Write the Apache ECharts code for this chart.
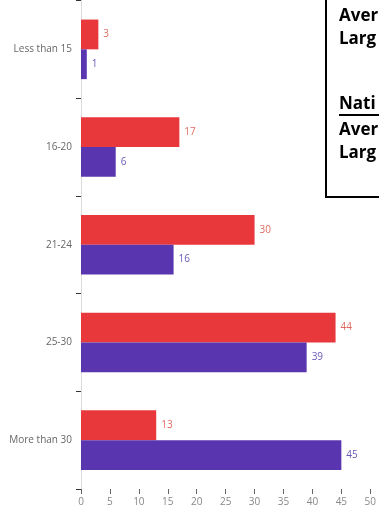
<!DOCTYPE html>
<html>
<head>
<meta charset="utf-8">
<script src="https://cdn.jsdelivr.net/npm/echarts@6/dist/echarts.min.js"></script>
<style>
  html, body { margin: 0; padding: 0; background: #fff; }
  #chart { width: 379px; height: 508px; }
</style>
</head>
<body>
<div id="chart"></div>
<script>
// Age groups and counts per group
const categories = ['Less than 15', '16-20', '21-24', '25-30', 'More than 30'];
const redValues = [3, 17, 30, 44, 13];
const purpleValues = [1, 6, 16, 39, 45];
const xTicks = { min: 0, max: 50, interval: 5 };

// Side note panel lines (clipped by the right edge)
const noteLines = ['Aver', 'Larg', 'Nati', 'Aver', 'Larg'];

const RED = '#e8383b';
const PURPLE = '#5a35b0';
const labelFont = 'Open Sans, Noto Sans, sans-serif';

const chart = echarts.init(document.getElementById('chart'), null, { renderer: 'canvas' });

function barSeries(name, values, color, labelColor) {
  return {
    name: name,
    type: 'bar',
    data: values,
    barGap: '0%',
    barCategoryGap: '39%',
    itemStyle: { color: color },
    label: {
      show: true,
      position: 'right',
      distance: 5,
      color: labelColor,
      fontSize: 10,
      fontFamily: labelFont
    },
    silent: true
  };
}

const noteY = [16, 39, 104, 130, 153];

chart.setOption({
  animation: false,
  backgroundColor: '#ffffff',
  grid: { left: 81, right: 7.5, top: 0.5, bottom: 19, containLabel: false },
  xAxis: {
    type: 'value',
    min: xTicks.min,
    max: xTicks.max,
    interval: xTicks.interval,
    splitLine: { show: false },
    axisLine: { show: false },
    axisTick: { show: true, length: 5, lineStyle: { color: '#666' } },
    axisLabel: { color: '#888', fontSize: 10, margin: 8, fontFamily: labelFont }
  },
  yAxis: {
    type: 'category',
    data: categories,
    inverse: true,
    axisLine: { show: true, lineStyle: { color: '#dcdcdc', width: 1 } },
    axisTick: { show: true, length: 5, lineStyle: { color: '#333' } },
    axisLabel: { color: '#666', fontSize: 10, margin: 9, fontFamily: labelFont }
  },
  series: [
    barSeries('Series 1', redValues, RED, '#e06a60'),
    barSeries('Series 2', purpleValues, PURPLE, '#6a58b8')
  ],
  graphic: [
    {
      type: 'rect',
      shape: { x: 326, y: -10, width: 120, height: 207 },
      style: { fill: '#ffffff', stroke: '#000', lineWidth: 2 },
      z: 100
    },
    ...noteLines.map((t, i) => ({
      type: 'text',
      x: 339,
      y: noteY[i],
      style: {
        text: t,
        fill: '#000',
        font: 'bold 17px "Open Sans", sans-serif',
        textVerticalAlign: 'middle'
      },
      z: 101
    })),
    {
      type: 'line',
      shape: { x1: 339, y1: 115, x2: 380, y2: 115 },
      style: { stroke: '#000', lineWidth: 2 },
      z: 101
    }
  ]
});
</script>
</body>
</html>
